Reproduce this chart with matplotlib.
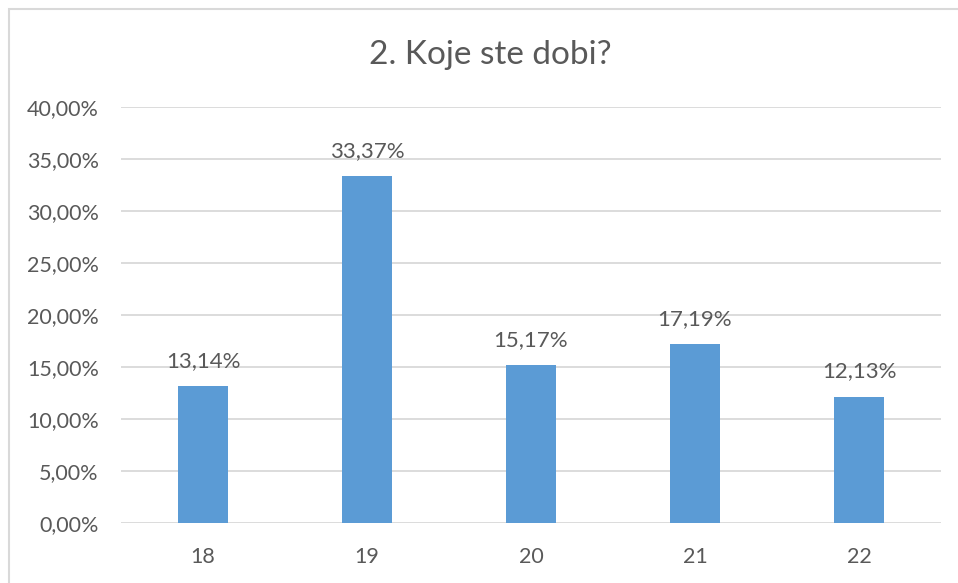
import matplotlib

matplotlib.use("Agg")
import matplotlib.pyplot as plt
from matplotlib.patches import Rectangle
from matplotlib.ticker import FuncFormatter

plt.rcParams["font.family"] = ["Lato", "DejaVu Sans"]

# podaci s grafikona
ages = ["18", "19", "20", "21", "22"]
shares = [13.14, 33.37, 15.17, 17.19, 12.13]
y_ticks = [0, 5, 10, 15, 20, 25, 30, 35, 40]

BAR = "#5B9BD5"
TXT = "#595959"
GRID = "#D9D9D9"

W, H = 958, 583
fig = plt.figure(figsize=(W / 100, H / 100), dpi=100)

# okvir grafikona (desni i donji rub odrezani)
fig.patches.append(Rectangle((9 / W, -0.05), 1.1, 1.05 - 9 / H, transform=fig.transFigure,
                             fill=False, edgecolor="#D9D9D9", linewidth=1.5, zorder=0))

ax = fig.add_axes([121 / W, 1 - 523 / H, 820 / W, 416 / H])
x = list(range(len(ages)))
ax.bar(x, shares, width=0.31, color=BAR, zorder=2)
ax.set_xlim(-0.5, len(ages) - 0.5)
ax.set_ylim(0, 40)
ax.set_yticks(y_ticks)
ax.yaxis.set_major_formatter(FuncFormatter(lambda v, _: f"{v:.2f}%".replace(".", ",")))
ax.set_xticks(x, ages)
ax.grid(axis="y", color=GRID, linewidth=1.3, zorder=0)
for s in ax.spines.values():
    s.set_visible(False)
ax.tick_params(length=0, labelsize=15.5, colors=TXT)
ax.tick_params(axis="y", pad=16)
ax.tick_params(axis="x", pad=17)

for xi, v in zip(x, shares):
    ax.annotate(f"{v:.2f}%".replace(".", ","), (xi, v), xytext=(0, 11), textcoords="offset points",
                ha="center", va="bottom", fontsize=16, color=TXT)

fig.text(490 / W, 1 - 55 / H, "2. Koje ste dobi?", ha="center", va="center", fontsize=24, color=TXT)

fig.savefig("out.png", dpi=100, facecolor="white")
